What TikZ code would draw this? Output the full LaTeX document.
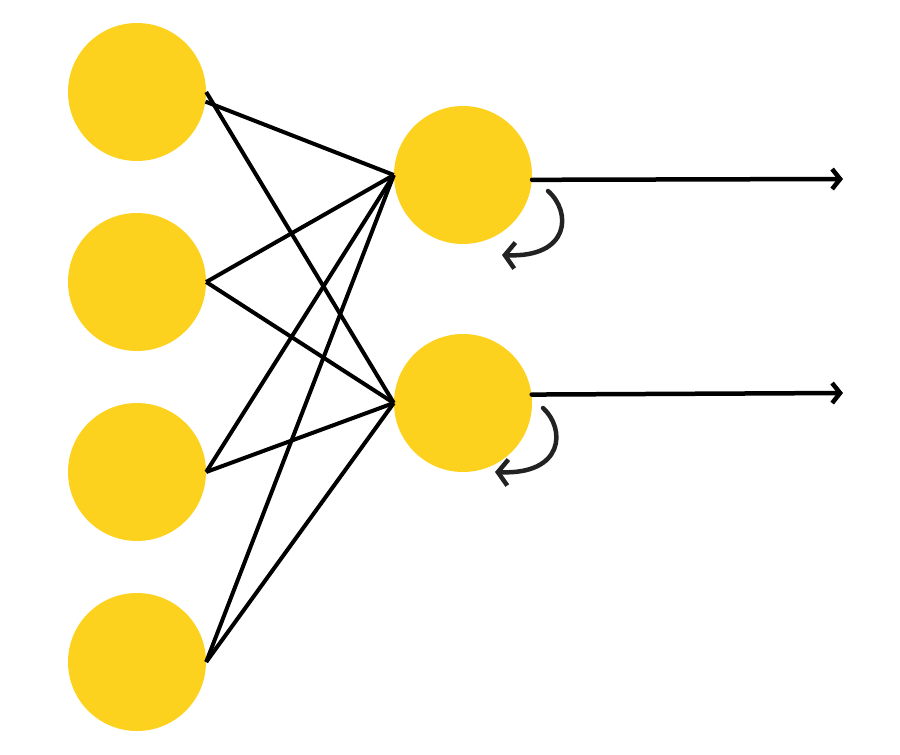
\documentclass[tikz,border=0pt]{standalone}
\usetikzlibrary{arrows.meta}
\definecolor{neuron}{HTML}{FDD21F}
\definecolor{loopcol}{HTML}{222222}
\begin{document}
\begin{tikzpicture}[x=1pt,y=-1pt,
  neuronnode/.style={circle,fill=neuron,draw=none,minimum size=138pt,inner sep=0pt},
  wire/.style={line width=4pt,black},
  outwire/.style={line width=4.5pt,black,line cap=round,-{Straight Barb[length=8pt,width=20pt,line width=4.5pt]}},
  loopwire/.style={line width=4.5pt,loopcol,line cap=round,-{Straight Barb[length=10pt,width=26pt,line width=4.5pt]}}]
\useasboundingbox (0,0) rectangle (900,755);
\node[neuronnode] (a) at (137,92) {};
\node[neuronnode] (b) at (137,282) {};
\node[neuronnode] (c) at (137,472) {};
\node[neuronnode] (d) at (137,662) {};
\node[neuronnode] (e) at (463,175) {};
\node[neuronnode] (f) at (463,403) {};
\coordinate (eo) at (843,179);
\coordinate (fo) at (843,393);
\foreach \s in {b,c,d}{
  \draw[wire] (\s.east) -- (e.west);
  \draw[wire] (\s.east) -- (f.west);
}
\draw[wire] (a.-8) -- (e.west);
\draw[wire] (a.east) -- (f.west);
\draw[outwire] (e.-4) -- (eo);
\draw[outwire] (f.7) -- (fo);
\coordinate (e1) at (548,191);
\coordinate (e2) at (502,255);
\coordinate (f1) at (543,408);
\coordinate (f2) at (495,472);
\draw[loopwire] (e1) .. controls (572,212) and (570,258) .. (e2);
\draw[loopwire] (f1) .. controls (566,429) and (564,475) .. (f2);
\end{tikzpicture}
\end{document}
